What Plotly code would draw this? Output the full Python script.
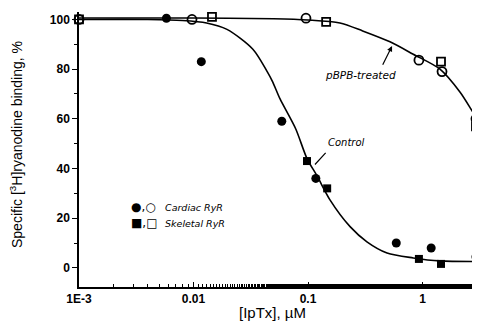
import math
import plotly.graph_objects as go

# ---- data ----
cardiac_ctrl_x = [0.0058, 0.0117, 0.059, 0.117, 0.59, 1.19, 2.93]
cardiac_ctrl_y = [100.5, 83, 59, 36, 10, 8, 4.4]

skeletal_ctrl_x = [0.098, 0.147, 0.93, 1.45]
skeletal_ctrl_y = [43, 32, 3.6, 1.6]

cardiac_pbpb_x = [0.001, 0.0097, 0.096, 0.93, 1.48, 2.93]
cardiac_pbpb_y = [100, 100, 100.5, 83.6, 79, 60]

skeletal_pbpb_x = [0.001, 0.0145, 0.144, 1.45, 2.93]
skeletal_pbpb_y = [100, 101, 99, 83, 57]

ctrl_curve_x = [0.001, 0.004, 0.008, 0.013, 0.0196, 0.033, 0.044, 0.049, 0.057, 0.078,
                0.098, 0.12, 0.155, 0.233, 0.327, 0.49, 0.83, 1.42, 3.3]
ctrl_curve_y = [100, 100, 99.6, 98.6, 96, 88, 79, 75, 68, 56,
                44, 37, 27.5, 16.6, 10.5, 6, 4, 2.8, 2.6]

pbpb_curve_x = [0.001, 0.01, 0.05, 0.1, 0.19, 0.30, 0.52, 0.83, 1.42, 2.13, 2.76, 3.3]
pbpb_curve_y = [100.6, 100.6, 100.3, 99.8, 98.6, 95.4, 91, 86, 80, 70.7, 62.6, 57]

x_tickvals = [0.001, 0.01, 0.1, 1]
x_ticktext = ["1E-3", "0.01", "0.1", "1"]
y_tickvals = [0, 20, 40, 60, 80, 100]

fig = go.Figure()

line_style = dict(color="black", width=1.6, shape="spline", smoothing=0.8)
fig.add_trace(go.Scatter(x=ctrl_curve_x, y=ctrl_curve_y, mode="lines",
                         line=line_style, showlegend=False, hoverinfo="skip"))
fig.add_trace(go.Scatter(x=pbpb_curve_x, y=pbpb_curve_y, mode="lines",
                         line=line_style, showlegend=False, hoverinfo="skip"))

fig.add_trace(go.Scatter(x=cardiac_ctrl_x, y=cardiac_ctrl_y, mode="markers",
                         marker=dict(symbol="circle", size=9, color="black"),
                         name="Cardiac RyR control", showlegend=False, cliponaxis=False))
fig.add_trace(go.Scatter(x=skeletal_ctrl_x, y=skeletal_ctrl_y, mode="markers",
                         marker=dict(symbol="square", size=8, color="black"),
                         name="Skeletal RyR control", showlegend=False, cliponaxis=False))
fig.add_trace(go.Scatter(x=cardiac_pbpb_x, y=cardiac_pbpb_y, mode="markers",
                         marker=dict(symbol="circle-open", size=9, color="black",
                                     line=dict(width=1.8, color="black")),
                         name="Cardiac RyR pBPB", showlegend=False, cliponaxis=False))
fig.add_trace(go.Scatter(x=skeletal_pbpb_x, y=skeletal_pbpb_y, mode="markers",
                         marker=dict(symbol="square-open", size=8, color="black",
                                     line=dict(width=1.8, color="black")),
                         name="Skeletal RyR pBPB", showlegend=False, cliponaxis=False))

font_hand = dict(family="DejaVu Sans", size=9.5, color="black")
tick_font = dict(family="Liberation Sans, Arial", size=12, color="black", weight="bold")

# the page body has an 8px default margin, so the figure sits 8px right/down in the window;
# size it so that it ends exactly at the window's right/bottom edges
fig.update_layout(
    width=472, height=318,
    margin=dict(l=71, r=0, t=4, b=39, autoexpand=False),
    paper_bgcolor="white", plot_bgcolor="white",
    font=dict(family="Liberation Sans, Arial", size=11, color="black"),
    showlegend=False,
    xaxis=dict(type="log", range=[-3, 0.502], showgrid=False, zeroline=False,
               showline=True, linecolor="black", linewidth=1.5,
               tickvals=x_tickvals, ticktext=x_ticktext,
               ticks="inside", ticklen=5, tickwidth=1.2, tickcolor="black",
               minor=dict(ticks="inside", ticklen=3, tickwidth=1, tickcolor="black"),
               tickfont=tick_font),
    yaxis=dict(range=[-7.7, 103.0], showgrid=False, zeroline=False,
               showline=True, linecolor="black", linewidth=1.5,
               tickvals=y_tickvals,
               ticks="outside", ticklen=5, tickwidth=1.2, tickcolor="black",
               minor=dict(dtick=10, ticks="outside", ticklen=3, tickwidth=1, tickcolor="black"),
               tickfont=tick_font),
)

# helpers: window pixel -> paper coords (plot area spans window x 79..480, y 12..287)
def px(xw):
    return (xw - 79) / 401

def py(yw):
    return (287 - yw) / 275

# axis titles
fig.add_annotation(text="Specific [<sup>3</sup>H]ryanodine binding, %", xref="paper", yref="paper",
                   x=px(16), y=py(145), xanchor="center", yanchor="middle",
                   textangle=-90, showarrow=False,
                   font=dict(family="Liberation Sans, Arial", size=14, color="black"))
fig.add_annotation(text="[IpTx], µM", xref="paper", yref="paper",
                   x=px(272), y=py(312), xanchor="center", yanchor="middle",
                   showarrow=False,
                   font=dict(family="Liberation Sans, Arial", size=15, color="black"))

L = math.log10
# curve labels (annotation x on log axis is given as log10)
fig.add_annotation(text="<i>pBPB-treated</i>", x=-0.546, y=77.6, xref="x", yref="y",
                   showarrow=False, font=dict(family="DejaVu Sans", size=10.5, color="black"))
fig.add_annotation(text="", x=L(0.542), y=89.3, xref="x", yref="y",
                   ax=-0.354, ay=81.2, axref="x", ayref="y",
                   showarrow=True, arrowhead=2, arrowsize=0.9, arrowwidth=1.2,
                   arrowcolor="black", standoff=0)
fig.add_annotation(text="<i>Control</i>", x=-0.668, y=50.5, xref="x", yref="y",
                   showarrow=False, font=dict(family="DejaVu Sans", size=10, color="black"))
fig.add_annotation(text="", x=L(0.115), y=41.6, xref="x", yref="y",
                   ax=-0.834, ay=46.9, axref="x", ayref="y",
                   showarrow=True, arrowhead=0, arrowwidth=1.2,
                   arrowcolor="black", standoff=0)

# legend-like text
fig.add_annotation(text="●,○", x=px(129), y=py(207),
                   xref="paper", yref="paper", xanchor="left", yanchor="middle",
                   showarrow=False, font=dict(family="DejaVu Sans", size=12, color="black"))
fig.add_annotation(text="<i>Cardiac RyR</i>", x=px(163), y=py(207),
                   xref="paper", yref="paper", xanchor="left", yanchor="middle",
                   showarrow=False, font=font_hand)
fig.add_annotation(text="■,□", x=px(129), y=py(223),
                   xref="paper", yref="paper", xanchor="left", yanchor="middle",
                   showarrow=False, font=dict(family="DejaVu Sans", size=12, color="black"))
fig.add_annotation(text="<i>Skeletal RyR</i>", x=px(163), y=py(223),
                   xref="paper", yref="paper", xanchor="left", yanchor="middle",
                   showarrow=False, font=font_hand)

fig.write_html("out.html")
